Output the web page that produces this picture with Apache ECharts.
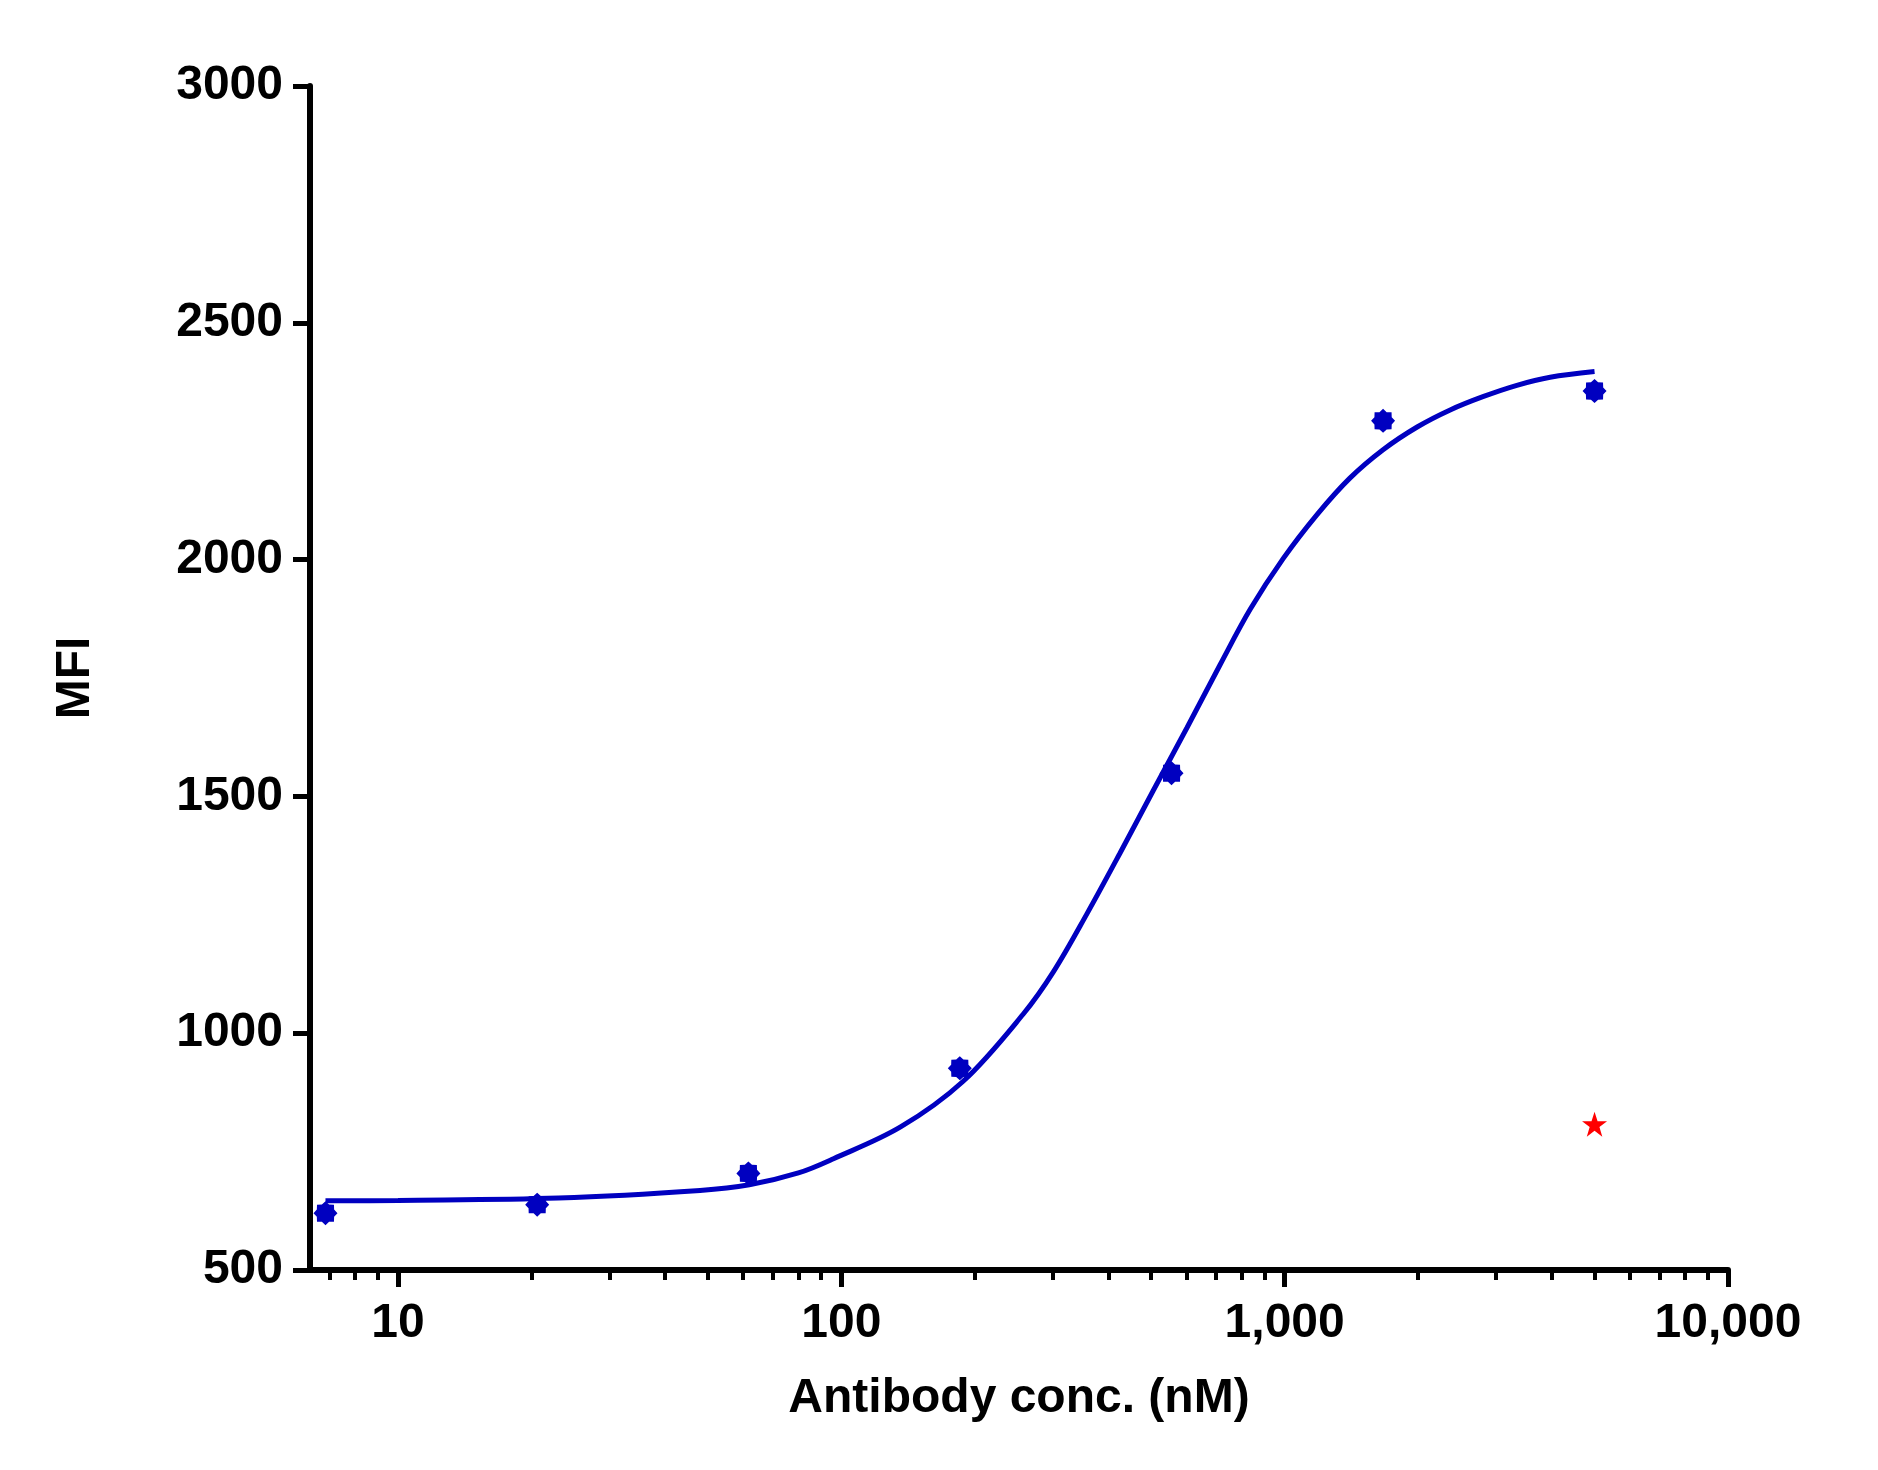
<!DOCTYPE html>
<html lang="en">
<head>
  <meta charset="UTF-8">
  <title>MFI vs Antibody conc.</title>
  <style>
    html, body { margin: 0; padding: 0; background: #fff; }
    #main { width: 1878px; height: 1470px; }
  </style>
</head>
<body>
  <div id="main"></div>
  <script src="https://cdn.jsdelivr.net/npm/echarts@6/dist/echarts.min.js"></script>
  <script>
    // measured points (nM, MFI)
    var concs = [6.86, 20.6, 61.7, 185, 555.6, 1667, 5000];
    var mfi = [620, 638, 704, 926, 1549, 2293, 2356];

    // red star marker
    var starConc = [5000];
    var starMfi = [808];

    // fitted curve
    var fitConc = [6.86, 10, 23, 48, 62, 80, 96, 136, 188, 257, 301, 358, 425, 505, 602, 715, 836, 992, 1183, 1403, 1667, 1990, 2362, 2800, 3340, 3970, 5000];
    var fitMfi = [646, 647, 652, 668, 680, 705, 735, 802, 898, 1040, 1130, 1252, 1380, 1512, 1645, 1778, 1895, 2002, 2095, 2172, 2232, 2280, 2316, 2344, 2368, 2385, 2397];

    var xMajor = [10, 100, 1000, 10000];
    var xMinor = [7, 8, 9, 20, 30, 40, 50, 60, 70, 80, 90, 200, 300, 400, 500, 600, 700, 800, 900,
      2000, 3000, 4000, 5000, 6000, 7000, 8000, 9000];

    var blue = '#0000C0';
    var font = "'Liberation Sans', Arial, sans-serif";

    function zip(a, b) {
      var out = [];
      for (var i = 0; i < a.length; i++) out.push([a[i], b[i]]);
      return out;
    }

    var asterisk = 'path://M10 0L13.0 2.8L17.07 2.93L17.2 7.0L20 10L17.2 13.0L17.07 17.07L13.0 17.2L10 20L7.0 17.2L2.93 17.07L2.8 13.0L0 10L2.8 7.0L2.93 2.93L7.0 2.8Z';
    var star = 'path://M50 0L61.8 35.1L98.9 35.1L69.1 56.7L80.3 91.9L50 70.3L19.7 91.9L30.9 56.7L1.1 35.1L38.2 35.1Z';

    var myChart = echarts.init(document.getElementById('main'));

    var option = {
      animation: false,
      backgroundColor: '#fff',
      grid: { left: 310, right: 150, top: 86, bottom: 200 },
      xAxis: [{
        type: 'log',
        min: 6.33,
        max: 10000,
        name: 'Antibody conc. (nM)',
        nameLocation: 'middle',
        nameGap: 105,
        nameTextStyle: { color: '#000', fontSize: 48, fontWeight: 'bold', fontFamily: font },
        axisLine: { lineStyle: { color: '#000', width: 6 } },
        axisTick: { show: true, customValues: xMajor, length: 17, lineStyle: { color: '#000', width: 5 } },
        axisLabel: {
          customValues: xMajor,
          margin: 30,
          color: '#000', fontSize: 48, fontWeight: 'bold', fontFamily: font,
          formatter: function (v) { return Math.round(v).toLocaleString('en-US'); }
        },
        splitLine: { show: false },
        minorTick: { show: false }
      }, {
        type: 'log',
        min: 6.33,
        max: 10000,
        position: 'bottom',
        axisLine: { show: false },
        axisTick: { show: true, customValues: xMinor, length: 10, lineStyle: { color: '#000', width: 4 } },
        axisLabel: { show: false },
        splitLine: { show: false }
      }],
      yAxis: {
        type: 'value',
        min: 500,
        max: 3000,
        interval: 500,
        name: 'MFI',
        nameLocation: 'middle',
        nameGap: 210,
        nameTextStyle: { color: '#000', fontSize: 48, fontWeight: 'bold', fontFamily: font },
        axisLine: { show: true, lineStyle: { color: '#000', width: 6 } },
        axisTick: { show: true, length: 17, lineStyle: { color: '#000', width: 5 } },
        axisLabel: {
          margin: 27, color: '#000', fontSize: 48, fontWeight: 'bold', fontFamily: font,
          formatter: function (v) { return String(v); }
        },
        splitLine: { show: false }
      },
      series: [{
        name: 'fit',
        type: 'line',
        xAxisIndex: 0,
        data: zip(fitConc, fitMfi),
        smooth: 0.35,
        showSymbol: false,
        lineStyle: { color: blue, width: 5 },
        z: 2
      }, {
        name: 'data',
        type: 'scatter',
        xAxisIndex: 0,
        data: zip(concs, mfi),
        symbol: asterisk,
        symbolSize: 24,
        itemStyle: { color: blue, opacity: 1 },
        z: 3
      }, {
        name: 'outlier',
        type: 'scatter',
        xAxisIndex: 0,
        data: zip(starConc, starMfi),
        symbol: star,
        symbolSize: 25,
        itemStyle: { color: '#FF0000', opacity: 1 },
        z: 3
      }]
    };

    myChart.setOption(option);
  </script>
</body>
</html>
